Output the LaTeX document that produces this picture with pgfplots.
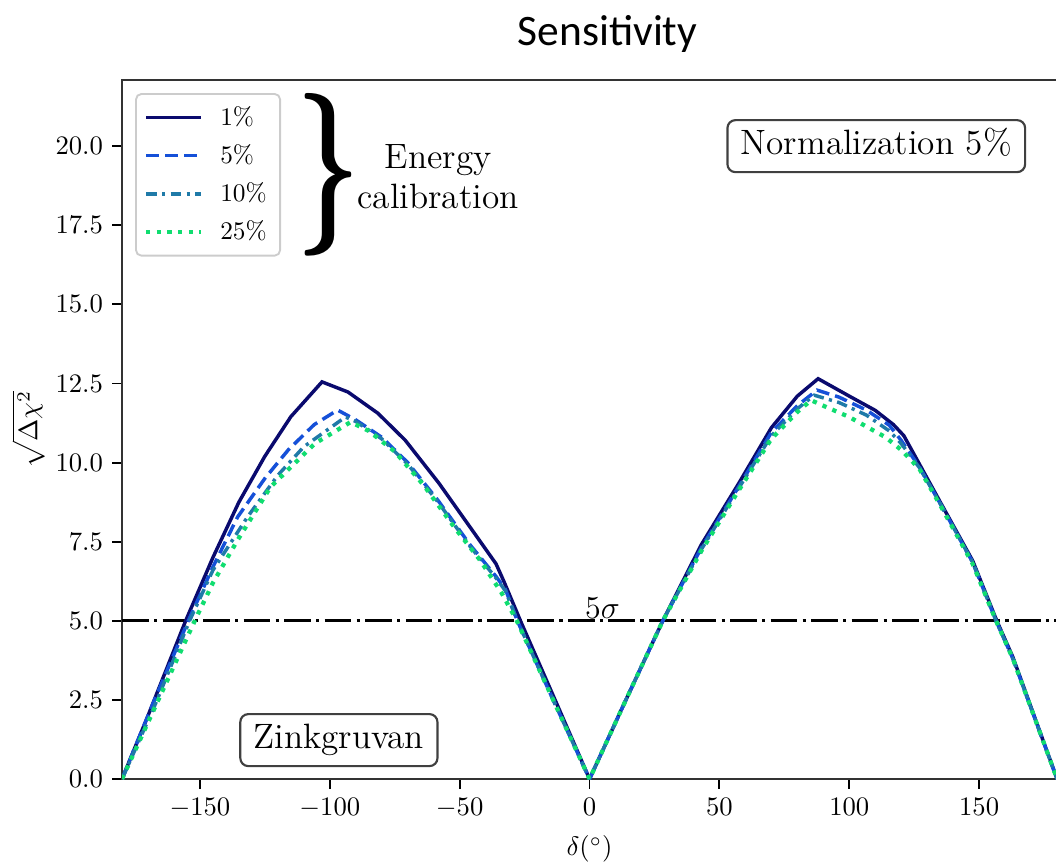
\documentclass[border=0pt]{standalone}
\usepackage{fontspec}
\newfontfamily\titlefont{Carlito}
\usepackage{graphicx}
\usepackage{pgfplots}
\pgfplotsset{compat=1.18}
\definecolor{c1}{HTML}{0A0A6E}
\definecolor{c2}{HTML}{1550D8}
\definecolor{c3}{HTML}{1F7AA8}
\definecolor{c4}{HTML}{10DD70}
\begin{document}
\begin{tikzpicture}
\begin{axis}[
  scale only axis, width=350.6pt, height=262.1pt,
  xmin=-180, xmax=180, ymin=0, ymax=22.09,
  xtick={-150,-100,-50,0,50,100,150},
  ytick={0,2.5,5,7.5,10,12.5,15,17.5,20},
  yticklabel style={/pgf/number format/.cd, fixed, fixed zerofill, precision=1},
  tick pos=left, tick align=outside, major tick length=3.6pt,
  tick style={black, line width=0.7pt},
  tick label style={font=\fontsize{10}{12}\selectfont},
  label style={font=\fontsize{10}{12}\selectfont},
  ylabel style={yshift=-0.5pt, inner sep=1pt},
  axis line style={black!80, line width=0.8pt},
  xlabel={$\delta(^\circ)$},
  ylabel={$\sqrt{\Delta\chi^2}$},
  title={Sensitivity},
  title style={font=\titlefont\fontsize{16.3}{19}\selectfont, at={(0.5,1)}, anchor=base, yshift=6.9pt, xshift=6.75pt},
  legend style={at={(0,1)}, anchor=north west, xshift=4.9pt, yshift=-4.9pt,
    draw=black!20, line width=0.7pt, rounded corners=2pt,
    font=\fontsize{9.5}{11}\selectfont, row sep=1.7pt, inner xsep=3pt, inner ysep=2.5pt},
  legend cell align=left,
  legend image code/.code={\draw[#1] (0pt,0pt) -- (20.6pt,0pt); \path (25pt,0pt);},
]
\coordinate (sw) at (rel axis cs:0,0);
\coordinate (ne) at (rel axis cs:1,1);

\addplot[black, line width=1.1pt, dash pattern=on 10pt off 2pt on 1.2pt off 2pt, forget plot] coordinates {(-180,5) (180,5)};

\addplot[c1, line width=1.3pt] coordinates {
(-180,0) (-170,2.0) (-155.5,5.0) (-145,7.0) (-135,8.75) (-125,10.2) (-115,11.45) (-103,12.55)
(-93,12.23) (-81.5,11.56) (-71,10.71) (-58,9.35) (-46,7.96) (-36,6.8) (-33,6.25) (-26.6,5.0)
(-13,2.45) (0,0) (14,2.5) (28.2,5.0) (43,7.4) (57.5,9.35) (70,11.1) (80,12.1) (88,12.65)
(100,12.1) (110,11.65) (117,11.2) (121,10.85) (134.7,8.8) (147.5,6.9) (156.8,5.0) (163,3.85) (180,0)};
\addlegendentry{1\%}

\addplot[c2, line width=1.3pt, dash pattern=on 4.8pt off 2.3pt] coordinates {
(-180,0) (-168,2.4) (-154.5,5.0) (-145,6.7) (-135.5,8.28) (-125,9.5) (-116,10.4) (-106,11.2) (-97,11.66)
(-90,11.35) (-80,10.8) (-70,10.0) (-58.3,8.8) (-46,7.4) (-36,6.4) (-32.4,6.0) (-27.8,5.0)
(-14,2.5) (0,0) (14,2.5) (28.2,5.0) (43,7.3) (57.5,9.25) (70,10.95) (80,11.8) (87.6,12.29)
(96,12.07) (106.6,11.66) (115.4,11.18) (120,10.7) (127,9.86) (134.7,8.75) (147.5,6.85) (156.5,5.0) (163,3.8) (180,0)};
\addlegendentry{5\%}

\addplot[c3, line width=1.3pt, dash pattern=on 4pt off 2pt on 1.2pt off 2pt] coordinates {
(-180,0) (-167,2.4) (-154,5.0) (-145,6.6) (-131.7,8.28) (-120,9.6) (-110,10.5) (-94,11.44)
(-90,11.3) (-80,10.75) (-70,9.95) (-58.3,8.75) (-46,7.35) (-36,6.35) (-32.4,5.95) (-27.8,5.0)
(-14,2.5) (0,0) (14,2.5) (28.2,5.0) (43,7.25) (57.5,9.2) (70,10.85) (80,11.7) (86.5,12.13)
(96,11.9) (106.6,11.5) (115.4,11.0) (120,10.6) (127,9.84) (134.7,8.75) (147.5,6.85) (156.5,5.0) (163,3.8) (180,0)};
\addlegendentry{10\%}

\addplot[c4, line width=1.6pt, dash pattern=on 1.6pt off 2.4pt] coordinates {
(-180,0) (-166,2.5) (-152,5.0) (-145,6.2) (-135.5,7.55) (-122.8,9.23) (-105.8,10.6) (-92,11.28)
(-85,11.0) (-75,10.35) (-64,9.3) (-52,7.95) (-42,6.9) (-34,5.9) (-28,5.0)
(-14,2.5) (0,0) (14,2.5) (28.2,5.0) (43,7.2) (57.5,9.13) (70,10.75) (80,11.6) (85.3,11.97)
(91,11.76) (100,11.44) (114,10.8) (120,10.4) (127,9.8) (134.7,8.7) (147.5,6.8) (156.5,5.0) (163,3.8) (180,0)};
\addlegendentry{25\%}

\node[font=\fontsize{13}{15}\selectfont] at (axis cs:5,5.4) {$5\sigma$};
\node[draw=black!75, line width=0.8pt, rounded corners=3pt, fill=white, inner xsep=5pt, inner ysep=3.5pt,
  text height=9.5pt, text depth=3pt, font=\fontsize{13.2}{15}\selectfont] at (axis cs:110.4,20.0) {Normalization 5\%};
\node[draw=black!75, line width=0.8pt, rounded corners=3pt, fill=white, inner xsep=5pt, inner ysep=3.5pt,
  text height=9.5pt, text depth=3pt, font=\fontsize{13.2}{15}\selectfont] at (axis cs:-96.5,1.23) {Zinkgruvan};
\node[font=\fontsize{13.2}{15}\selectfont, align=center] at (axis cs:-58.3,19.02) {Energy\\calibration};
\node[inner sep=0pt] at (axis cs:-100.4,19.1) {\resizebox*{24pt}{61pt}{\bfseries\}}};
\end{axis}
\pgfresetboundingbox
\path[use as bounding box] ([xshift=-45.75pt,yshift=-30.75pt]sw) rectangle ([xshift=-0.4pt,yshift=30pt]ne);
\end{tikzpicture}
\end{document}
